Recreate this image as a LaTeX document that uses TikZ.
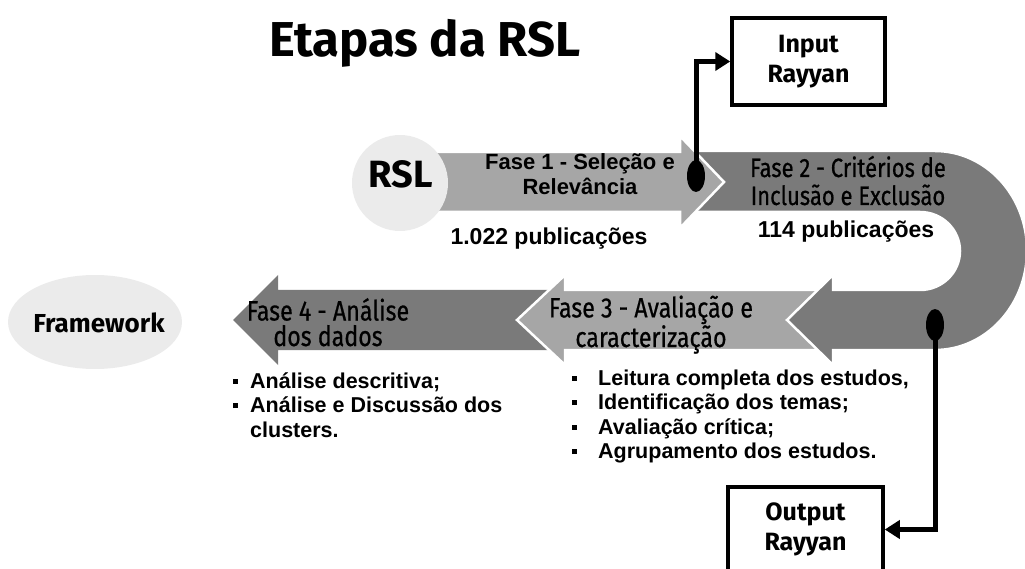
\documentclass[tikz,border=0pt]{standalone}
\usepackage{fontspec}
\setmainfont{Liberation Sans}
\newfontfamily\fira{Fira Sans}
\newfontfamily\firac[FakeStretch=0.83,FakeBold=0.6]{Fira Sans}
\usetikzlibrary{arrows.meta,shapes.geometric}
\definecolor{lightg}{HTML}{A6A6A6}
\definecolor{darkg}{HTML}{7A7A7A}
\definecolor{circg}{HTML}{EBEBEB}
\newcommand{\blt}{\raisebox{4.5pt}{\rule{5pt}{5pt}}}
\tikzset{
  lightarrow/.style={fill=lightg, draw=white, line width=2.5pt, line join=miter},
  darkarrow/.style={fill=darkg, draw=white, line width=2.5pt, line join=miter},
  phasetxt/.style={font=\firac\fontsize{26.5}{28}\selectfont, align=center, anchor=base, inner sep=0pt},
  phasetxtb/.style={font=\firac\fontsize{28}{25.5}\selectfont, align=center, anchor=base, inner sep=0pt},
  arialtxt/.style={font=\bfseries\fontsize{22}{25}\selectfont, align=center, anchor=base, inner sep=0pt},
  counttxt/.style={font=\bfseries\fontsize{23}{25}\selectfont, anchor=base, inner sep=0pt},
  listtxt/.style={font=\bfseries\fontsize{21.5}{24.5}\selectfont, anchor=base west, inner sep=0pt},
  rbox/.style={draw=black, line width=3.5pt, fill=white, font=\fira\bfseries\fontsize{25}{30}\selectfont, align=center, inner sep=0pt},
  dotnode/.style={ellipse, fill=black, inner sep=0pt, minimum width=18pt, minimum height=32pt},
  conn/.style={line width=5pt, -{Triangle[length=15pt,width=18pt]}},
}
\begin{document}
\begin{tikzpicture}[x=1pt,y=-1pt]
\useasboundingbox (0,0) rectangle (1025,569);
% Fase 4 arrow
\path[fill=darkg] (233,320) -- (278,275) -- (278,290) -- (580,290) -- (580,350) -- (278,350) -- (278,365) -- cycle;
% Fase 3 arrow
\path[lightarrow] (517,320) -- (565,275) -- (565,290) -- (850,290) -- (850,350) -- (565,350) -- (565,365) -- cycle;
% U band with Fase 2
\path[darkarrow] (690,151) -- (935,151) arc[start angle=-90, end angle=90, x radius=92, y radius=99.5]
  -- (833,350) -- (833,365) -- (787,320) -- (833,275) -- (833,290) -- (920,290)
  arc[start angle=90, end angle=-90, x radius=40, y radius=39] -- (690,212) -- cycle;
% Fase 1 arrow
\path[lightarrow] (420,152) -- (680,152) -- (680,136) -- (724,182) -- (680,228) -- (680,212) -- (420,212) -- cycle;
% circles
\node[circle, fill=circg, minimum size=96pt, inner sep=0pt] (rsl) at (400,183) {};
\node[font=\fira\bfseries\fontsize{38}{38}\selectfont, anchor=base, inner sep=0pt] (rsltxt) at (401,188) {RSL};
\node[ellipse, fill=circg, minimum width=174pt, minimum height=94pt, inner sep=0pt] (fw) at (95,322) {};
\node[font=\fira\bfseries\fontsize{26}{26}\selectfont, anchor=base, inner sep=0pt] (fwtxt) at (99,332) {Framework};
% title
\node[font=\fira\bfseries\fontsize{49}{49}\selectfont, anchor=base, inner sep=0pt] (title) at (425,57) {Etapas da RSL};
% phase texts (anchor = baseline of last line)
\node[arialtxt] (f1) at (580,195) {Fase 1 - Seleção e\\Relevância};
\node[counttxt] (c1) at (549,245) {1.022 publicações};
\node[phasetxt] (f2) at (848,205) {Fase 2 - Critérios de\\Inclusão e Exclusão};
\node[counttxt] (c2) at (846,238) {114 publicações};
\node[phasetxtb] (f3) at (651,347) {Fase 3 - Avaliação e\\caracterização};
\node[phasetxtb] (f4) at (328,346) {Fase 4 - Análise\\dos dados};
% lists
\node[listtxt] (l4) at (233,388) {\begin{tabular}[t]{@{}l@{\hspace{12pt}}l@{}}
\blt & Análise descritiva;\\
\blt & Análise e Discussão dos\\
 & clusters.
\end{tabular}};
\node[listtxt] (l3) at (572,385) {\begin{tabular}[t]{@{}l@{\hspace{21pt}}l@{}}
\blt & Leitura completa dos estudos,\\
\blt & Identificação dos temas;\\
\blt & Avaliação crítica;\\
\blt & Agrupamento dos estudos.
\end{tabular}};
% Rayyan boxes
\node[rbox, minimum width=153pt, minimum height=87pt] (inbox) at (808.5,61.5) {Input\\Rayyan};
\node[rbox, minimum width=155pt, minimum height=85pt] (outbox) at (805.5,529.5) {Output\\Rayyan};
% dots and connectors
\node[dotnode] (d1) at (696,176) {};
\node[dotnode] (d2) at (935,325) {};
\draw[conn] (d1.center) |- (inbox.west);
\draw[conn] (d2.center) |- (outbox.east);
\end{tikzpicture}
\end{document}
